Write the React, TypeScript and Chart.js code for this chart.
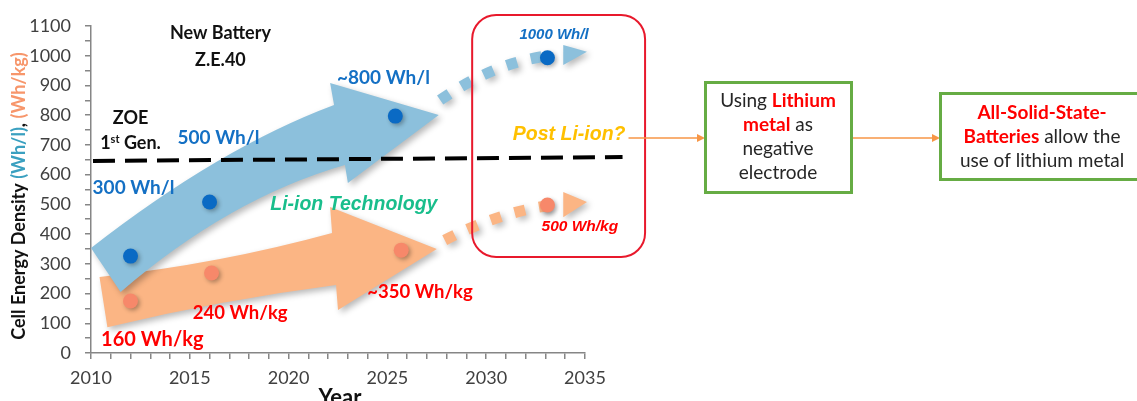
import React, { useEffect, useRef } from "react";
import { Chart, registerables } from "chart.js";
Chart.register(...registerables);

// ---- data ----
const yearsVolumetric = [2012, 2016, 2025.4, 2033.1];
const volumetric = [326, 508, 797, 993];
const yearsGravimetric = [2012, 2016.1, 2025.7, 2033.1];
const gravimetric = [175, 269, 346, 498];
const volumetricLabels = ["300 Wh/l", "500 Wh/l", "~800 Wh/l", "1000 Wh/l"];
const gravimetricLabels = ["160 Wh/kg", "240 Wh/kg", "~350 Wh/kg", "500 Wh/kg"];
const zoeYears = [2010.1, 2036.9];
const zoeLevel = [646, 659];
const xRange = [2010, 2035];
const yRange = [0, 1100];
const xLabelStep = 5;
const yLabelStep = 100;

const FONT = "Lato, 'Open Sans', sans-serif";
const ARIAL = "'Liberation Sans', Arial, sans-serif";
const BLUE_TXT = "#1470C4";
const RED_TXT = "#FF0000";
const AXIS = "#868686";

type Seg = { t: string; c: string; f: string; dy?: number };

function richLine(ctx: CanvasRenderingContext2D, segs: Seg[], cx: number, cy: number) {
  let w = 0;
  for (const s of segs) { ctx.font = s.f; w += ctx.measureText(s.t).width; }
  let x = cx - w / 2;
  ctx.textAlign = "left";
  ctx.textBaseline = "middle";
  for (const s of segs) {
    ctx.font = s.f; ctx.fillStyle = s.c;
    ctx.fillText(s.t, x, cy + (s.dy || 0));
    x += ctx.measureText(s.t).width;
  }
}

function txt(ctx: CanvasRenderingContext2D, s: string, x: number, y: number, font: string, color: string, align: CanvasTextAlign = "center") {
  ctx.font = font; ctx.fillStyle = color; ctx.textAlign = align; ctx.textBaseline = "middle";
  ctx.fillText(s, x, y);
}

const decor = {
  id: "decor",
  beforeDatasetsDraw(chart: any) {
    const ctx: CanvasRenderingContext2D = chart.ctx;
    const xs = chart.scales.x, ys = chart.scales.y;
    const P = (yr: number, v: number): [number, number] => [xs.getPixelForValue(yr), ys.getPixelForValue(v)];
    ctx.save();
    const shadow = () => {
      ctx.shadowColor = "rgba(0,0,0,0.28)"; ctx.shadowBlur = 6; ctx.shadowOffsetX = 3; ctx.shadowOffsetY = 3;
    };
    const noShadow = () => { ctx.shadowColor = "transparent"; ctx.shadowBlur = 0; ctx.shadowOffsetX = 0; ctx.shadowOffsetY = 0; };

    const bigArrow = (pts: { tt: number[]; tc: number[]; nt: number[]; ht: number[]; tip: number[]; hb: number[]; nb: number[]; bc: number[]; tb: number[] }, color: string) => {
      const q = (a: number[]) => P(a[0], a[1]);
      ctx.beginPath();
      let p = q(pts.tt); ctx.moveTo(p[0], p[1]);
      let c = q(pts.tc); p = q(pts.nt); ctx.quadraticCurveTo(c[0], c[1], p[0], p[1]);
      p = q(pts.ht); ctx.lineTo(p[0], p[1]);
      p = q(pts.tip); ctx.lineTo(p[0], p[1]);
      p = q(pts.hb); ctx.lineTo(p[0], p[1]);
      p = q(pts.nb); ctx.lineTo(p[0], p[1]);
      c = q(pts.bc); p = q(pts.tb); ctx.quadraticCurveTo(c[0], c[1], p[0], p[1]);
      ctx.closePath();
      shadow();
      ctx.fillStyle = color; ctx.fill();
      noShadow();
    };

    // orange (gravimetric) arrow
    bigArrow({ tt: [2010.43, 256], tc: [2016.5, 300], nt: [2022.2, 404], ht: [2022.1, 491], tip: [2027.5, 350], hb: [2022.5, 145], nb: [2022.4, 229], bc: [2016.5, 178], tb: [2010.83, 87] }, "#FBB584");
    // blue (volumetric) arrow
    bigArrow({ tt: [2010.0, 353], tc: [2016.5, 690], nt: [2022.3, 834], ht: [2022.1, 908], tip: [2027.6, 801], hb: [2023.0, 572], nb: [2022.85, 632], bc: [2017, 520], tb: [2011.5, 205] }, "#8CC0DC");

    // dotted extensions
    const dotted = (s: number[], c: number[], e: number[], b1: number[], b2: number[], tip: number[], color: string) => {
      const S = P(s[0], s[1]), C = P(c[0], c[1]), E = P(e[0], e[1]);
      shadow();
      ctx.strokeStyle = color; ctx.lineWidth = 11; ctx.lineCap = "butt";
      ctx.setLineDash([11, 14]);
      ctx.beginPath(); ctx.moveTo(S[0], S[1]); ctx.quadraticCurveTo(C[0], C[1], E[0], E[1]); ctx.stroke();
      ctx.setLineDash([]);
      const B1 = P(b1[0], b1[1]), B2 = P(b2[0], b2[1]), T = P(tip[0], tip[1]);
      ctx.fillStyle = color;
      ctx.beginPath(); ctx.moveTo(B1[0], B1[1]); ctx.lineTo(T[0], T[1]); ctx.lineTo(B2[0], B2[1]); ctx.closePath(); ctx.fill();
      noShadow();
    };
    dotted([2027.67, 851], [2030.45, 979], [2033.2, 1000], [2033.9, 1036], [2033.9, 969], [2035.1, 1013], "#8CC0DC");
    dotted([2027.9, 380], [2030.7, 474], [2033.2, 496], [2033.9, 542], [2033.9, 457], [2035.1, 508], "#FBB584");

    // ZOE 1st gen reference line
    const L0 = P(zoeYears[0], zoeLevel[0]), L1 = P(zoeYears[1], zoeLevel[1]);
    ctx.strokeStyle = "#000"; ctx.lineWidth = 4; ctx.setLineDash([22, 10]);
    ctx.beginPath(); ctx.moveTo(L0[0], L0[1]); ctx.lineTo(L1[0], L1[1]); ctx.stroke();
    ctx.setLineDash([]);

    // post Li-ion box
    const A = P(2029.29, 1137), B = P(2038.04, 323);
    ctx.strokeStyle = "#E8192C"; ctx.lineWidth = 2;
    ctx.beginPath();
    (ctx as any).roundRect(A[0], A[1], B[0] - A[0], B[1] - A[1], 24);
    ctx.stroke();
    ctx.restore();
  },
  afterDatasetsDraw(chart: any) {
    const ctx: CanvasRenderingContext2D = chart.ctx;
    const xs = chart.scales.x, ys = chart.scales.y;
    const P = (yr: number, v: number): [number, number] => [xs.getPixelForValue(yr), ys.getPixelForValue(v)];
    ctx.save();
    const bold = (s: number) => `bold ${s}px ${FONT}`;
    const ital = (s: number) => `italic bold ${s}px ${ARIAL}`;

    // value labels
    let p = P(2012.15, 555); txt(ctx, volumetricLabels[0], p[0], p[1], bold(19), BLUE_TXT);
    p = P(2016.45, 723); txt(ctx, volumetricLabels[1], p[0], p[1], bold(19), BLUE_TXT);
    p = P(2024.8, 925); txt(ctx, volumetricLabels[2], p[0], p[1], bold(19), BLUE_TXT);
    p = P(2033.43, 1070); txt(ctx, volumetricLabels[3], p[0], p[1], ital(15), BLUE_TXT);
    p = P(2013.1, 44); txt(ctx, gravimetricLabels[0], p[0], p[1], bold(20), RED_TXT);
    p = P(2017.55, 135); txt(ctx, gravimetricLabels[1], p[0], p[1], bold(18.5), RED_TXT);
    p = P(2026.65, 205); txt(ctx, gravimetricLabels[2], p[0], p[1], bold(18.5), RED_TXT);
    p = P(2034.74, 424); txt(ctx, gravimetricLabels[3], p[0], p[1], ital(15.5), RED_TXT);

    // annotations
    p = P(2016.55, 1076); txt(ctx, "New Battery", p[0], p[1], bold(18), "#111");
    p = P(2016.55, 986); txt(ctx, "Z.E.40", p[0], p[1], bold(18), "#111");
    p = P(2012.0, 791); txt(ctx, "ZOE", p[0], p[1], bold(18), "#111");
    p = P(2012.0, 706);
    richLine(ctx, [
      { t: "1", c: "#111", f: bold(18) },
      { t: "st", c: "#111", f: bold(11), dy: -4 },
      { t: " Gen.", c: "#111", f: bold(18) },
    ], p[0], p[1]);
    p = P(2023.3, 498); txt(ctx, "Li-ion Technology", p[0], p[1], ital(19.5), "#19BE8C");
    p = P(2037.05, 733); txt(ctx, "Post Li-ion?", p[0], p[1], ital(19.5), "#FFC000", "right");

    // connectors & boxes (layout elements right of the plot)
    const cy = p[1] + 3;
    const arrowLine = (x0: number, x1: number, y: number) => {
      ctx.strokeStyle = "#F79646"; ctx.lineWidth = 1.5;
      ctx.beginPath(); ctx.moveTo(x0, y); ctx.lineTo(x1 - 6, y); ctx.stroke();
      ctx.fillStyle = "#F79646";
      ctx.beginPath(); ctx.moveTo(x1, y); ctx.lineTo(x1 - 8, y - 4); ctx.lineTo(x1 - 8, y + 4); ctx.closePath(); ctx.fill();
    };
    arrowLine(p[0] + 3, 705, cy);
    arrowLine(852, 940, cy);
    ctx.strokeStyle = "#66AC44"; ctx.lineWidth = 3;
    ctx.strokeRect(705.5, 82.5, 146, 110);
    ctx.strokeRect(940.5, 93.5, 200, 86);
    const reg = `19px ${FONT}`, bd = `bold 19px ${FONT}`, dk = "#262626";
    richLine(ctx, [{ t: "Using ", c: dk, f: reg }, { t: "Lithium", c: RED_TXT, f: bd }], 778, 101);
    richLine(ctx, [{ t: "metal", c: RED_TXT, f: bd }, { t: " as", c: dk, f: reg }], 778, 125);
    richLine(ctx, [{ t: "negative", c: dk, f: reg }], 778, 149);
    richLine(ctx, [{ t: "electrode", c: dk, f: reg }], 778, 173);
    richLine(ctx, [{ t: "All-Solid-State-", c: RED_TXT, f: bd }], 1042, 113);
    richLine(ctx, [{ t: "Batteries", c: RED_TXT, f: bd }, { t: " allow the", c: dk, f: reg }], 1042, 137);
    richLine(ctx, [{ t: "use of lithium metal", c: dk, f: reg }], 1042, 161);

    // axis titles
    txt(ctx, "Year", 340, 398, bold(22), "#111");
    ctx.save();
    ctx.translate(19, 196);
    ctx.rotate(-Math.PI / 2);
    richLine(ctx, [
      { t: "Cell Energy Density ", c: "#111", f: bold(18) },
      { t: "(Wh/l)", c: "#3AA0C0", f: bold(18) },
      { t: ", ", c: "#111", f: bold(18) },
      { t: "(Wh/kg)", c: "#F7966B", f: bold(18) },
    ], 0, 0);
    ctx.restore();
    ctx.restore();
  },
};

// shadow for the points
const pointShadow = {
  id: "pointShadow",
  beforeDatasetDraw(chart: any) {
    const ctx = chart.ctx;
    ctx.save();
    ctx.shadowColor = "rgba(0,0,0,0.3)"; ctx.shadowBlur = 4; ctx.shadowOffsetX = 2; ctx.shadowOffsetY = 2;
  },
  afterDatasetDraw(chart: any) { chart.ctx.restore(); },
};

export default function App() {
  const ref = useRef<HTMLCanvasElement>(null);
  useEffect(() => {
    document.body.style.margin = "0";
    const chart = new Chart(ref.current!, {
      type: "scatter",
      data: {
        datasets: [
          {
            label: "Wh/l",
            data: yearsVolumetric.map((x, i) => ({ x, y: volumetric[i] })),
            backgroundColor: "#0A6AC4", borderColor: "#0A6AC4", pointRadius: 7.5, borderWidth: 0, clip: false,
          },
          {
            label: "Wh/kg",
            data: yearsGravimetric.map((x, i) => ({ x, y: gravimetric[i] })),
            backgroundColor: "#F7886A", borderColor: "#F7886A", pointRadius: 7.5, borderWidth: 0, clip: false,
          },
        ],
      },
      options: {
        responsive: false,
        animation: false,
        devicePixelRatio: 1,
        layout: { padding: { left: 0, top: 26, right: 552, bottom: 0 } },
        plugins: { legend: { display: false }, tooltip: { enabled: false } },
        scales: {
          x: {
            type: "linear", min: xRange[0], max: xRange[1],
            afterFit: (s: any) => { s.height = 48; },
            ticks: {
              stepSize: 1, autoSkip: false, maxRotation: 0, padding: 8,
              color: "#404040", font: { family: FONT, size: 18 },
              callback: (v: any) => (Number(v) % xLabelStep === 0 ? String(v) : ""),
            },
            grid: { drawOnChartArea: false, tickLength: 6, color: AXIS, lineWidth: 1.5 },
            border: { color: AXIS, width: 1.5 },
          },
          y: {
            type: "linear", min: yRange[0], max: yRange[1],
            afterFit: (s: any) => { s.width = 91; },
            ticks: {
              stepSize: 50, autoSkip: false, padding: 14, maxTicksLimit: 100,
              color: "#404040", font: { family: FONT, size: 18 },
              callback: (v: any) => (Number(v) % yLabelStep === 0 ? String(v) : ""),
            },
            grid: { drawOnChartArea: false, tickLength: 6, color: AXIS, lineWidth: 1.5 },
            border: { color: AXIS, width: 1.5 },
          },
        },
      },
      plugins: [decor, pointShadow],
    } as any);
    return () => chart.destroy();
  }, []);
  return <canvas ref={ref} width={1137} height={401} style={{ display: "block" }} />;
}
